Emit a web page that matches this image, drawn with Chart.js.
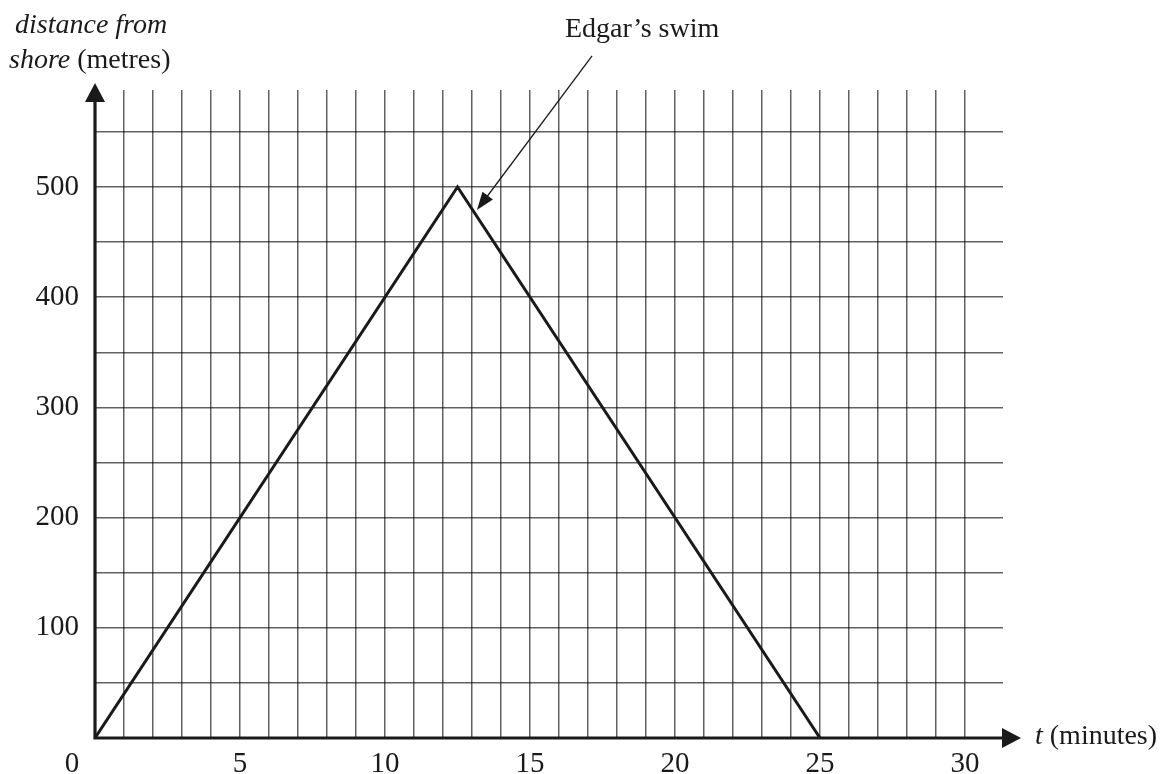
<!DOCTYPE html>
<html>
<head>
<meta charset="utf-8">
<title>Edgar's swim</title>
<script src="https://cdn.jsdelivr.net/npm/chart.js@4.4.1/dist/chart.umd.min.js"></script>
<style>
  html, body { margin: 0; padding: 0; background: #fff; }
  #wrap { position: relative; width: 1164px; height: 774px; }
</style>
</head>
<body>
<div id="wrap"><canvas id="swimChart"></canvas></div>
<script>
// Edgar swims out 500 m and back to shore
const minutes = [0, 12.5, 25];
const distance = [0, 500, 0];

const xTickValues = [0, 5, 10, 15, 20, 25, 30];
const xTickLabels = ['0', '5', '10', '15', '20', '25', '30'];
const yTickValues = [100, 200, 300, 400, 500];
const yTickLabels = ['100', '200', '300', '400', '500'];

// grid spacing: 1 minute across, 50 m up
const xGridLines = Array.from({ length: 31 }, (_, i) => i);
const yGridLines = Array.from({ length: 12 }, (_, i) => i * 50);

// where the label arrow points and where it starts (data units)
const arrowTip = { x: 13.17, y: 479 };
const arrowTail = { x: 17.14, y: 619 };

const FONT = "'Liberation Serif', 'Times New Roman', serif";
const INK = '#1a1a1a';

const points = minutes.map((m, i) => ({ x: m, y: distance[i] }));

function arrowHead(ctx, tx, ty, angle, len, half) {
    ctx.beginPath();
    ctx.moveTo(tx, ty);
    ctx.lineTo(tx - len * Math.cos(angle) + half * Math.sin(angle), ty - len * Math.sin(angle) - half * Math.cos(angle));
    ctx.lineTo(tx - len * Math.cos(angle) - half * Math.sin(angle), ty - len * Math.sin(angle) + half * Math.cos(angle));
    ctx.closePath();
    ctx.fill();
}

const decorations = {
    id: 'decorations',
    afterDraw(chart) {
        const { ctx, chartArea, scales: { x, y } } = chart;
        const x0 = x.getPixelForValue(0);
        const y0 = y.getPixelForValue(0);
        ctx.save();
        ctx.fillStyle = INK;
        ctx.strokeStyle = INK;

        // axes with arrow heads
        ctx.lineWidth = 3.2;
        ctx.beginPath();
        ctx.moveTo(x0, y0 + 1.6);
        ctx.lineTo(x0, chartArea.top);
        ctx.moveTo(x0 - 1.6, y0);
        ctx.lineTo(chartArea.right, y0);
        ctx.stroke();
        arrowHead(ctx, x0, chartArea.top - 7, -Math.PI / 2, 19, 10);
        arrowHead(ctx, chartArea.right + 18, y0, 0, 19, 10);

        // origin label sits below-left of the corner
        ctx.font = '29px ' + FONT;
        ctx.textAlign = 'center';
        ctx.textBaseline = 'alphabetic';
        ctx.fillText('0', x0 - 23, y0 + 34);

        // axis titles
        ctx.textAlign = 'left';
        ctx.font = 'italic 28px ' + FONT;
        ctx.fillText('distance from', 15, 33);
        ctx.fillText('shore', 9, 68);
        let w = ctx.measureText('shore ').width;
        ctx.font = '28px ' + FONT;
        ctx.fillText('(metres)', 9 + w, 68);

        const tx = chartArea.right + 32;
        ctx.font = 'italic 28px ' + FONT;
        ctx.fillText('t', tx, y0 + 6);
        w = ctx.measureText('t ').width;
        ctx.font = '28px ' + FONT;
        ctx.fillText('(minutes)', tx + w, y0 + 6);

        // series label with pointer
        ctx.fillText('Edgar\u2019s swim', 565, 37);
        const ax = x.getPixelForValue(arrowTip.x), ay = y.getPixelForValue(arrowTip.y);
        const bx = x.getPixelForValue(arrowTail.x), by = y.getPixelForValue(arrowTail.y);
        const ang = Math.atan2(ay - by, ax - bx);
        ctx.lineWidth = 1.3;
        ctx.beginPath();
        ctx.moveTo(bx, by);
        ctx.lineTo(ax - 12 * Math.cos(ang), ay - 12 * Math.sin(ang));
        ctx.stroke();
        arrowHead(ctx, ax, ay, ang, 18, 6.5);
        ctx.restore();
    }
};

const canvas = document.getElementById('swimChart');
canvas.width = 1164;
canvas.height = 774;

new Chart(canvas.getContext('2d'), {
    type: 'line',
    data: {
        datasets: [{
            label: 'Edgar\u2019s swim',
            data: points,
            borderColor: INK,
            borderWidth: 3,
            borderJoinStyle: 'miter',
            pointRadius: 0,
            tension: 0,
            fill: false
        }]
    },
    options: {
        responsive: false,
        animation: false,
        events: [],
        layout: { padding: { left: 0, top: 90, right: 161, bottom: 0 } },
        plugins: {
            legend: { display: false },
            tooltip: { enabled: false }
        },
        scales: {
            x: {
                type: 'linear',
                min: 0,
                max: 31.31,
                afterBuildTicks: (scale) => { scale.ticks = xGridLines.map(v => ({ value: v })); },
                afterFit: (scale) => { scale.height = 36; },
                border: { display: false },
                grid: { color: 'rgba(0,0,0,0.62)', lineWidth: 1.5, drawTicks: false },
                ticks: {
                    autoSkip: false,
                    maxRotation: 0,
                    padding: 9,
                    color: INK,
                    font: { family: FONT, size: 29 },
                    callback: (v) => {
                        const i = xTickValues.indexOf(v);
                        return i > 0 ? xTickLabels[i] : '';
                    }
                }
            },
            y: {
                min: 0,
                max: 588,
                afterBuildTicks: (scale) => { scale.ticks = yGridLines.map(v => ({ value: v })); },
                afterFit: (scale) => { scale.width = 95; },
                border: { display: false },
                grid: { color: 'rgba(0,0,0,0.62)', lineWidth: 1.5, drawTicks: false },
                ticks: {
                    autoSkip: false,
                    padding: 16,
                    color: INK,
                    font: { family: FONT, size: 29 },
                    callback: (v) => {
                        const i = yTickValues.indexOf(v);
                        return i >= 0 ? yTickLabels[i] : '';
                    }
                }
            }
        }
    },
    plugins: [decorations]
});
</script>
</body>
</html>
